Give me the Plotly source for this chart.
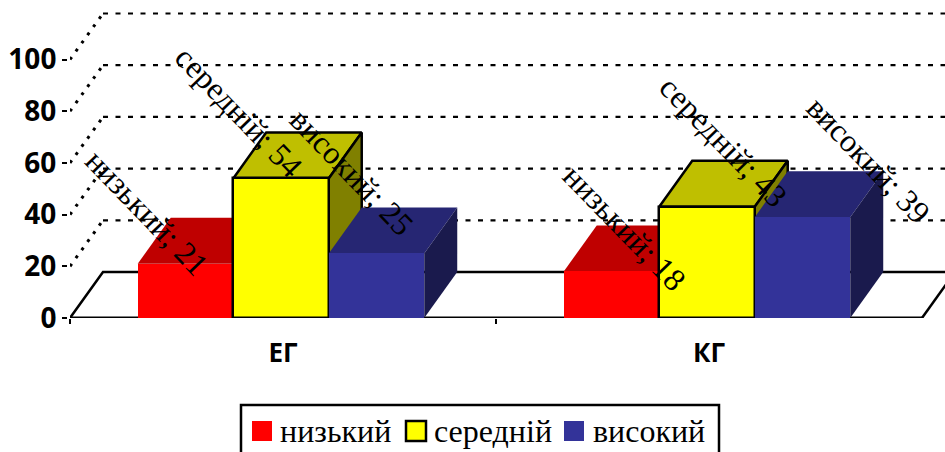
import plotly.graph_objects as go

categories = ["ЕГ", "КГ"]
series_names = ["низький", "середній", "високий"]
low_values = [21, 18]
mid_values = [54, 43]
high_values = [25, 39]
y_ticks = [0, 20, 40, 60, 80, 100]

W, H = 945, 452
L, B = 70, 134
PX_X = 426.0
PX_Y = 2.585
X_MAX = (W - L) / PX_X
Y_MAX = (H - B) / PX_Y
DX = 33 / PX_X
DY = 46 / PX_Y
BAR_W = 95.5 / PX_X
BAR_START = -0.341

front = ["#FF0000", "#FFFF00", "#333399"]
top = ["#BF0000", "#BFBF00", "#262673"]
side = ["#800000", "#808000", "#1A1A4D"]
outline = [0, 2.5, 0]
label_shift = [
    [(-38, 51), (13, 43)],
    [(-42, 66), (17, 65)],
    [(-25, 81), (66, 57)],
]
all_values = [low_values, mid_values, high_values]

fig = go.Figure()


def line(xs, ys, dash="solid", width=2.5):
    fig.add_trace(go.Scatter(x=xs, y=ys, mode="lines", showlegend=False, hoverinfo="skip",
                             cliponaxis=False, zorder=0,
                             line=dict(color="black", width=width, dash=dash)))


# back wall grid and floor
for v in y_ticks[1:]:
    line([0, DX], [v, v + DY], dash="3px,7px", width=3)
    line([DX, X_MAX], [v + DY, v + DY], dash="5px,7.5px", width=2.2)
line([0, DX, X_MAX], [0, DY, DY])
line([2, 2 + DX], [0, DY])

for s, (name, vals) in enumerate(zip(series_names, all_values)):
    face_line = dict(color="black", width=outline[s]) if outline[s] else dict(width=0)
    for c, v in enumerate(vals):
        x0 = c + 0.5 + BAR_START + s * BAR_W
        x1 = x0 + BAR_W
        fig.add_trace(go.Scatter(x=[x0, x1, x1 + DX, x0 + DX, x0], y=[v, v, v + DY, v + DY, v],
                                 mode="lines", fill="toself", fillcolor=top[s], line=face_line,
                                 showlegend=False, hoverinfo="skip", zorder=2 * s + 1))
        fig.add_trace(go.Scatter(x=[x1, x1 + DX, x1 + DX, x1, x1], y=[0, DY, v + DY, v, 0],
                                 mode="lines", fill="toself", fillcolor=side[s], line=face_line,
                                 showlegend=False, hoverinfo="skip", zorder=2 * s + 1))
    fig.add_trace(go.Bar(x=[0.5, 1.5], y=vals, name=name, width=BAR_W,
                         offset=BAR_START + s * BAR_W, showlegend=False,
                         marker=dict(color=front[s], line=dict(color="black", width=outline[s])),
                         zorder=2 * s + 2))

line([0, 2], [0, 0], width=3)

# rotated data labels
annotations = []
for s, (name, vals) in enumerate(zip(series_names, all_values)):
    for c, v in enumerate(vals):
        sx, sy = label_shift[s][c]
        annotations.append(dict(
            x=c + 0.5 + BAR_START + (s + 0.5) * BAR_W, y=v, xref="x", yref="y",
            text=f"{name}; {v}", showarrow=False, textangle=46, xshift=sx, yshift=sy,
            font=dict(family="Liberation Serif", size=32, color="black")))

# legend box (its lower edge runs off the page as in the source)
legend_swatch_x = [252, 406, 564]
legend_text_x = [280, 434, 593]


def px(x):
    return (x - L) / (W - L)


def py(y):
    return (H - B - y) / (H - B)


shapes = [dict(type="rect", xref="paper", yref="paper", x0=px(241), x1=px(719), y0=py(456), y1=py(405),
               line=dict(color="black", width=2.5), fillcolor="white", layer="above")]
for s, name in enumerate(series_names):
    sw = legend_swatch_x[s]
    shapes.append(dict(type="rect", xref="paper", yref="paper", x0=px(sw), x1=px(sw + 20),
                       y0=py(441), y1=py(421), fillcolor=front[s], layer="above",
                       line=dict(color="black", width=outline[s])))
    annotations.append(dict(x=px(legend_text_x[s]), y=py(431), xref="paper", yref="paper", xanchor="left",
                            yanchor="middle", text=name, showarrow=False, xshift=-2,
                            font=dict(family="Liberation Serif", size=32, color="black")))

fig.update_layout(
    width=W, height=H, autosize=False, margin=dict(l=L, r=0, t=0, b=B),
    paper_bgcolor="white", plot_bgcolor="white", barmode="overlay", bargap=0,
    showlegend=False, annotations=annotations, shapes=shapes,
    font=dict(family="Open Sans", color="black"),
    xaxis=dict(range=[0, X_MAX], tickmode="array", tickvals=[0.5, 1.5], ticktext=categories,
               showgrid=False, zeroline=False, showline=False, ticks="", ticklabelstandoff=17,
               tickfont=dict(family="Open Sans", size=26, color="black", weight=700),
               minor=dict(tickmode="array", tickvals=[0, 1], ticks="outside", ticklen=5,
                          tickwidth=2, tickcolor="black", showgrid=False)),
    yaxis=dict(range=[0, Y_MAX], tickmode="array", tickvals=y_ticks, showgrid=False, zeroline=False,
               showline=True, linecolor="black", linewidth=3, ticks="outside", ticklen=5, tickwidth=2,
               tickcolor="black", tickfont=dict(family="Open Sans", size=28, color="black", weight=700)),
)

fig.write_html("out.html", config={"displayModeBar": False},
               post_script="document.body.style.margin='0';document.body.style.overflow='hidden';")
